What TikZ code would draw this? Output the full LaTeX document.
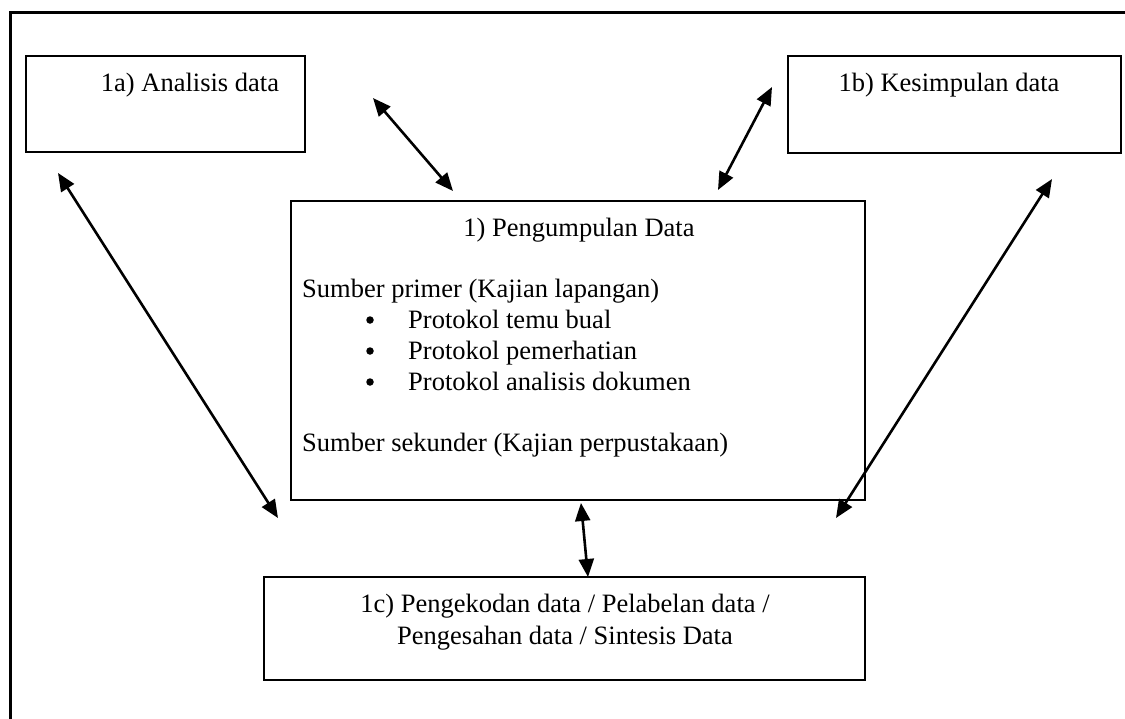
\documentclass[tikz,border=0pt]{standalone}
\usepackage{fontspec}
\setmainfont{Liberation Serif}
\usetikzlibrary{arrows.meta}
\begin{document}
\begin{tikzpicture}[x=1pt,y=-1pt,
  box/.style={draw,line width=1.2pt,inner sep=0pt,outer sep=0pt},
  txt/.style={inner sep=0pt,anchor=base,font=\fontsize{26.5}{31}\selectfont},
  ltxt/.style={txt,anchor=base west},
  bul/.style={circle,fill,inner sep=0pt,minimum size=7.5pt},
  dbl/.style={line width=2.6pt,{Triangle[length=18pt,width=15pt]}-{Triangle[length=18pt,width=15pt]}}]
\useasboundingbox (0,0) rectangle (1125,718);
\draw[line width=3pt] (10,720) -- (10,12) -- (1127,12);
% boxes
\node[box,minimum width=279pt,minimum height=96pt] (a) at (165.5,104) {};
\node[box,minimum width=333pt,minimum height=97pt] (b) at (954.5,104.5) {};
\node[box,minimum width=574pt,minimum height=299pt] (p) at (578,350.5) {};
\node[box,minimum width=601pt,minimum height=103pt] (c) at (564.5,628.5) {};
% texts
\node[txt] (ta) at (190,91) {1a) Analisis data};
\node[txt] (tb) at (949,91) {1b) Kesimpulan data};
\node[txt] (tp) at (579,236) {1) Pengumpulan Data};
\node[ltxt] (s1) at (302,297) {Sumber primer (Kajian lapangan)};
\node[bul] (b1) at (370,320) {};
\node[ltxt] (l1) at (408,328) {Protokol temu bual};
\node[bul] (b2) at (370,351) {};
\node[ltxt] (l2) at (408,359) {Protokol pemerhatian};
\node[bul] (b3) at (370,382) {};
\node[ltxt] (l3) at (408,390) {Protokol analisis dokumen};
\node[ltxt] (s2) at (302,451) {Sumber sekunder (Kajian perpustakaan)};
\node[txt] (tc1) at (565,612) {1c) Pengekodan data / Pelabelan data /};
\node[txt] (tc2) at (565,644) {Pengesahan data / Sintesis Data};
% connector end points
\coordinate (a1) at (373,98);
\coordinate (a2) at (453,191);
\coordinate (b1e) at (772,87);
\coordinate (b2e) at (718,190);
\coordinate (l1e) at (58,173);
\coordinate (l2e) at (278,518);
\coordinate (r1e) at (1052,179);
\coordinate (r2e) at (836,518);
\coordinate (v1) at (581,503);
\coordinate (v2) at (588,577);
\draw[dbl] (a1) -- (a2);
\draw[dbl] (b1e) -- (b2e);
\draw[dbl] (l1e) -- (l2e);
\draw[dbl] (r1e) -- (r2e);
\draw[dbl] (v1) -- (v2);
\end{tikzpicture}
\end{document}
